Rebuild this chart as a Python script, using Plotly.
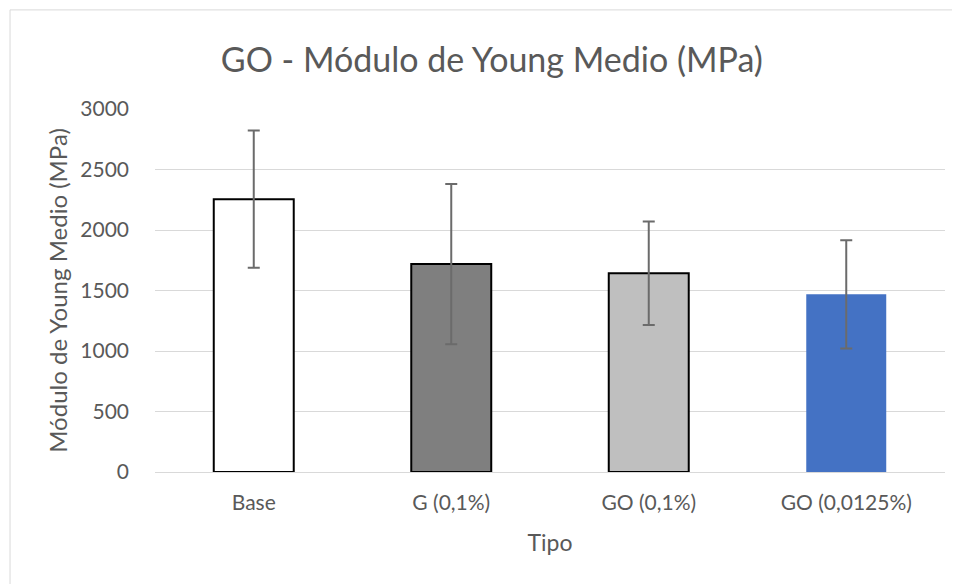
import plotly.graph_objects as go

tipos = ["Base", "G (0,1%)", "GO (0,1%)", "GO (0,0125%)"]
modulo_medio = [2255, 1718, 1643, 1468]
desviacion = [568, 663, 428, 447]
colores = ["#ffffff", "#7f7f7f", "#bfbfbf", "#4472c4"]
bordes = ["#000000", "#000000", "#000000", "rgba(0,0,0,0)"]

FONT = "Lato, Carlito, Calibri, sans-serif"
GREY_TEXT = "#595959"

fig = go.Figure(
    go.Bar(
        x=tipos,
        y=modulo_medio,
        marker=dict(color=colores, line=dict(color=bordes, width=2)),
        error_y=dict(type="data", array=desviacion, visible=True,
                     color="#6b6b6b", thickness=2, width=6),
    )
)

# the page body adds an 8px offset, so margins are shifted to compensate
fig.update_layout(
    width=960,
    height=584,
    margin=dict(l=147, r=23, t=101, b=120),
    plot_bgcolor="white",
    paper_bgcolor="white",
    bargap=0.595,
    showlegend=False,
    font=dict(family=FONT, color=GREY_TEXT, size=21),
    title=dict(text="GO - Módulo de Young Medio (MPa)", x=0.504, xanchor="center",
               y=0.911, yanchor="middle", font=dict(size=34, color=GREY_TEXT)),
    shapes=[dict(type="rect", xref="paper", yref="paper",
                 x0=-0.1835, x1=1.05, y0=-0.35, y1=1.273,
                 line=dict(color="#d9d9d9", width=1), fillcolor="rgba(0,0,0,0)",
                 layer="below")],
)
fig.update_xaxes(
    title=dict(text="Tipo", font=dict(size=23, color=GREY_TEXT), standoff=21),
    showline=False, ticks="", tickfont=dict(size=21), ticklabelstandoff=16,
)
fig.update_yaxes(
    title=dict(text="Módulo de Young Medio (MPa)", font=dict(size=24, color=GREY_TEXT), standoff=5),
    range=[0, 3000], dtick=500, showgrid=True, gridcolor="#d9d9d9", gridwidth=1,
    zeroline=True, zerolinecolor="#d9d9d9", zerolinewidth=1,
    ticks="", ticklabelstandoff=25, tickfont=dict(size=21),
)

fig.write_html("out.html")
